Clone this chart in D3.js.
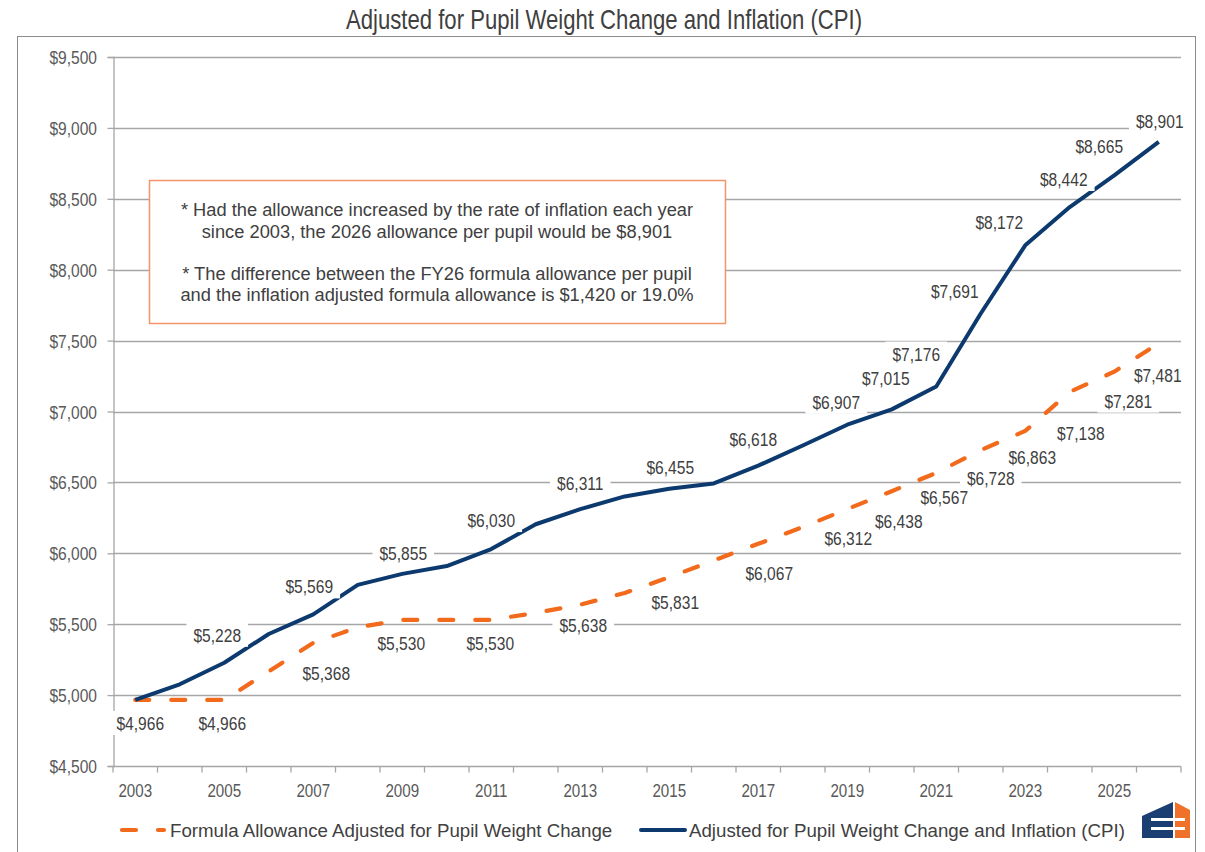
<!DOCTYPE html>
<html>
<head>
<meta charset="utf-8">
<script src="https://cdn.jsdelivr.net/npm/d3@7"></script>
<style>
  html, body { margin: 0; padding: 0; background: #ffffff; }
  svg { display: block; }
</style>
</head>
<body>
<svg id="chart" width="1205" height="852"></svg>
<script>
// ---------------- DATA ----------------
const years = [2003, 2004, 2005, 2006, 2007, 2008, 2009, 2010, 2011, 2012, 2013, 2014,
               2015, 2016, 2017, 2018, 2019, 2020, 2021, 2022, 2023, 2024, 2025, 2026];
const formulaAllowance = [4966, 4966, 4966, 5167, 5368, 5478, 5530, 5530, 5530, 5580, 5638, 5720,
                          5831, 5950, 6067, 6185, 6312, 6438, 6567, 6728, 6863, 7138, 7281, 7481];
const inflationAdjusted = [4966, 5076, 5228, 5431, 5569, 5777, 5855, 5910, 6030, 6205, 6311, 6401,
                           6455, 6493, 6618, 6760, 6907, 7015, 7176, 7691, 8172, 8442, 8665, 8901];
const xTickLabels = [2003, 2005, 2007, 2009, 2011, 2013, 2015, 2017, 2019, 2021, 2023, 2025];
const yTicks = [4500, 5000, 5500, 6000, 6500, 7000, 7500, 8000, 8500, 9000, 9500];
const formulaLabelYears = [2005, 2007, 2009, 2011, 2013, 2015, 2017, 2019, 2020, 2021, 2022, 2023, 2024, 2025, 2026];
const inflationLabelYears = [2003, 2005, 2007, 2009, 2011, 2013, 2015, 2017, 2019, 2020, 2021, 2022, 2023, 2024, 2025, 2026];
const seriesNames = ["Formula Allowance Adjusted for Pupil Weight Change",
                     "Adjusted for Pupil Weight Change and Inflation (CPI)"];
const titleText = "Adjusted for Pupil Weight Change and Inflation (CPI)";
const noteLines = [
  "* Had the allowance increased by the rate of inflation each year",
  "since 2003, the 2026 allowance per pupil would be $8,901",
  "* The difference between the FY26 formula allowance per pupil",
  "and the inflation adjusted formula allowance is $1,420 or 19.0%"
];

// ---------------- LAYOUT (label offsets in px, relative to the data point) ----------------
const formulaLabelOffsets = [[-2,23],[13,30],[-1,23],[-1,23],[3,20],[6,25],[11,29],[1,29],[7,30],[8,24],[10,28],[7,26],[11,41],[14,29],[-1,32]];
const inflationLabelOffsets = [[5,23],[-7,-28],[-4,-28],[1,-21],[0,-29],[0,-26],[1,-22],[-5,-27],[-11,-23],[-6,-31],[-20,-33],[-26,-23],[-26,-23],[-6,-28],[-15,-29],[1,-21]];

const BLUE = "#0c3a6e", ORANGE = "#f26b1d", GRID = "#a6a6a6", TXT = "#595959";
const SANS = "'Liberation Sans', Arial, sans-serif";
const NARROW_SCALE = 0.82;

const svg = d3.select("#chart");
const plot = {left: 113, right: 1181, top: 57, bottom: 766};

const x = d3.scaleBand().domain(years).range([plot.left, plot.right]).paddingInner(0).paddingOuter(0);
const xc = yr => x(yr) + x.bandwidth() / 2;
const y = d3.scaleLinear().domain([4500, 9500]).range([plot.bottom, plot.top]);

// narrow text helper (condensed look via horizontal scaling)
function narrowText(g, px, py, anchor, size, str, fill) {
  return g.append("text")
    .attr("transform", `translate(${px},${py}) scale(${NARROW_SCALE},1)`)
    .attr("x", 0).attr("y", 0).attr("text-anchor", anchor)
    .attr("font-family", SANS).attr("font-size", size).attr("fill", fill).text(str);
}

// outer frame
svg.append("rect").attr("x", 17.5).attr("y", 36.5).attr("width", 1178).attr("height", 830)
  .attr("fill", "none").attr("stroke", "#8c8c8c").attr("stroke-width", 1);

// title
narrowText(svg, 604, 29, "middle", 27, titleText, "#404040");

// gridlines
svg.append("g").selectAll("line").data(yTicks.slice(1)).join("line")
  .attr("x1", plot.left).attr("x2", plot.right)
  .attr("y1", d => Math.round(y(d)) + 0.5).attr("y2", d => Math.round(y(d)) + 0.5)
  .attr("stroke", GRID).attr("stroke-width", 1.3);

// y axis
const yAxis = d3.axisLeft(y).tickValues(yTicks).tickSize(6).tickFormat("");
const gy = svg.append("g").attr("transform", `translate(${plot.left + 0.5},0)`).call(yAxis);
gy.select(".domain").attr("stroke", GRID).attr("stroke-width", 1.3);
gy.selectAll(".tick line").attr("stroke", GRID).attr("stroke-width", 1.3);
const gyl = svg.append("g");
yTicks.forEach(v => narrowText(gyl, 97, y(v) + 7, "end", 19, "$" + d3.format(",")(v), TXT));

// x axis (ticks at band boundaries)
const gx = svg.append("g").attr("transform", `translate(0,${plot.bottom + 0.5})`);
gx.append("line").attr("x1", plot.left).attr("x2", plot.right).attr("stroke", GRID).attr("stroke-width", 1.3);
gx.selectAll("line.tk").data(years.concat([null])).join("line").attr("class", "tk")
  .attr("x1", (d, i) => plot.left + i * x.bandwidth()).attr("x2", (d, i) => plot.left + i * x.bandwidth())
  .attr("y1", 0).attr("y2", 6).attr("stroke", GRID).attr("stroke-width", 1.3);
xTickLabels.forEach(d => narrowText(gx, xc(d), 30, "middle", 18.5, String(d), TXT));

// note box
const nb = svg.append("g");
nb.append("rect").attr("x", 149.5).attr("y", 180.5).attr("width", 576).attr("height", 143)
  .attr("fill", "#ffffff").attr("stroke", "#f4946a").attr("stroke-width", 1.5);
const noteY = [216, 238, 280, 301];
nb.selectAll("text").data(noteLines).join("text")
  .attr("x", 437).attr("y", (d, i) => noteY[i]).attr("text-anchor", "middle")
  .attr("font-family", SANS).attr("font-size", 18.3).attr("fill", "#404040").text(d => d);

// lines
const lineGen = vals => d3.line().x((d, i) => xc(years[i])).y(d => y(d))(vals);
svg.append("path").attr("d", lineGen(formulaAllowance)).attr("fill", "none")
  .attr("stroke", ORANGE).attr("stroke-width", 4.2).attr("stroke-dasharray", "14,22")
  .attr("stroke-linecap", "round").attr("stroke-linejoin", "round");
svg.append("path").attr("d", lineGen(inflationAdjusted)).attr("fill", "none")
  .attr("stroke", BLUE).attr("stroke-width", 4).attr("stroke-linejoin", "round");

// data labels with white boxes
function drawLabels(labelYears, values, offsets) {
  const g = svg.append("g");
  labelYears.forEach((yr, k) => {
    const i = years.indexOf(yr);
    const cx = xc(yr) + offsets[k][0], cy = y(values[i]) + offsets[k][1];
    const lab = g.append("g");
    const str = "$" + d3.format(",")(values[i]);
    const t = narrowText(lab, cx, cy + 7, "middle", 19, str, "#404040");
    const w = t.node().getBBox().width * NARROW_SCALE;
    lab.insert("rect", "text").attr("x", cx - w / 2 - 7).attr("y", cy - 12).attr("width", w + 14)
      .attr("height", 24).attr("fill", "#ffffff");
  });
}
drawLabels(inflationLabelYears, inflationAdjusted, inflationLabelOffsets);
drawLabels(formulaLabelYears, formulaAllowance, formulaLabelOffsets);

// legend
const lg = svg.append("g");
lg.append("line").attr("x1", 122).attr("x2", 164).attr("y1", 830).attr("y2", 830)
  .attr("stroke", ORANGE).attr("stroke-width", 4.2).attr("stroke-dasharray", "14,22")
  .attr("stroke-linecap", "round");
lg.append("text").attr("x", 170).attr("y", 837).attr("font-family", SANS).attr("font-size", 18.7)
  .attr("fill", "#404040").text(seriesNames[0]);
lg.append("line").attr("x1", 641).attr("x2", 685).attr("y1", 830).attr("y2", 830)
  .attr("stroke", BLUE).attr("stroke-width", 4).attr("stroke-linecap", "round");
lg.append("text").attr("x", 689).attr("y", 837).attr("font-family", SANS).attr("font-size", 18.7)
  .attr("fill", "#404040").text(seriesNames[1]);

// logo (simplified)
const logo = svg.append("g");
logo.append("polygon").attr("points", "1142,816 1173,802 1173,838 1142,838").attr("fill", "#1b3f73");
logo.append("polygon").attr("points", "1175,802 1190,810 1190,838 1175,838").attr("fill", "#f0722a");
[818, 827].forEach(yy => {
  logo.append("rect").attr("x", 1151).attr("y", yy).attr("width", 23).attr("height", 3).attr("fill", "#ffffff");
  logo.append("rect").attr("x", 1174).attr("y", yy).attr("width", 11).attr("height", 3).attr("fill", "#ffffff");
});
logo.append("rect").attr("x", 1173).attr("y", 802).attr("width", 2).attr("height", 36).attr("fill", "#ffffff");
</script>
</body>
</html>
